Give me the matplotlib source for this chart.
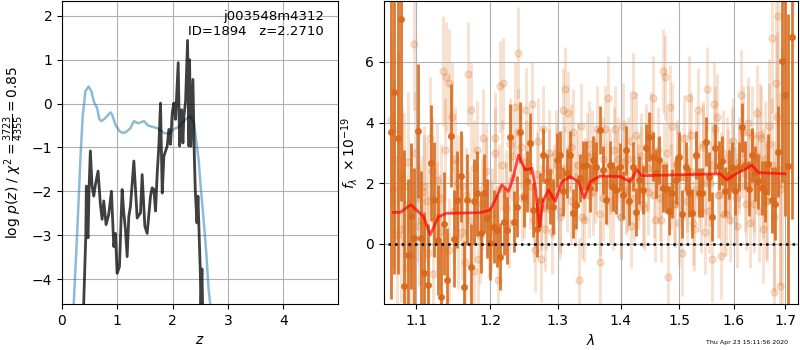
import numpy as np
import matplotlib
matplotlib.use('Agg')
from matplotlib import pyplot as plt
from matplotlib.ticker import FixedLocator, FixedFormatter, NullLocator

# redshift panel
chi2_z = [0.211, 0.272, 0.332, 0.374, 0.423, 0.483, 0.531, 0.574, 0.634, 0.676, 0.713, 0.785,
          0.876, 0.906, 0.966, 1.039, 1.099, 1.159, 1.238, 1.299, 1.377, 1.480, 1.558, 1.630,
          1.721, 1.842, 1.932, 2.023, 2.114, 2.234, 2.319, 2.385, 2.409, 2.470, 2.512, 2.560,
          2.608, 2.651, 2.681]
chi2_v = [-4.58, -3.02, -1.28, -0.29, 0.28, 0.39, 0.28, 0.05, -0.10, -0.36, -0.40, -0.33,
          -0.20, -0.25, -0.48, -0.63, -0.67, -0.65, -0.56, -0.40, -0.45, -0.40, -0.50, -0.53,
          -0.56, -0.67, -0.69, -0.58, -0.53, -0.36, -0.29, -0.44, -0.67, -1.28, -1.96, -2.64,
          -3.40, -4.24, -4.58]

pz_z = [0.392, 0.430, 0.440, 0.455, 0.471, 0.490, 0.513, 0.543, 0.574, 0.604, 0.652, 0.694,
        0.725, 0.755, 0.797, 0.845, 0.894, 0.936, 0.966, 0.996, 1.039, 1.087, 1.117, 1.147,
        1.178, 1.208, 1.238, 1.299, 1.329, 1.359, 1.419, 1.449, 1.498, 1.540, 1.600, 1.630,
        1.661, 1.691, 1.721, 1.751, 1.781, 1.812, 1.842, 1.902, 1.932, 1.962, 1.993, 2.023,
        2.053, 2.101, 2.126, 2.162, 2.186, 2.204, 2.234, 2.270, 2.295, 2.306, 2.331, 2.367,
        2.391, 2.409, 2.440, 2.458, 2.500, 2.512, 2.530, 2.542]
pz_v = [-4.58, -3.02, -1.88, -2.90, -3.06, -1.90, -1.08, -1.88, -2.11, -1.85, -1.54, -2.30,
        -2.64, -2.22, -2.76, -2.53, -2.00, -3.26, -2.96, -3.87, -3.72, -1.96, -2.49, -2.87,
        -3.49, -2.57, -2.34, -1.31, -1.96, -2.61, -2.49, -1.62, -2.80, -2.96, -2.11, -1.92,
        -1.96, -2.45, -1.60, -0.97, 0.01, -2.04, -1.20, -0.97, -0.59, -0.93, -0.21, 0.01,
        -0.36, 0.93, -0.97, -0.14, -0.90, -0.29, 0.05, 1.44, -0.97, 1.00, -0.97, 0.55,
        -1.12, -1.96, -2.72, -2.11, -3.81, -4.58, -3.77, -4.58]

# spectrum panel, binned pixels (dark)
dark_flux = [3.7, 5.0, 3.5, 7.4, -1.4,
             -0.36, 0.92, 0.19, 3.72, 0.19, -0.96, -1.35, 2.67, 1.46, 0.13, -1.74, 0.66, -1.19,
             3.57, 0.17, 1.46, 2.23, -1.41, 1.46, -0.75, 1.40, 1.67, 0.35, 1.67, 0.84, 0.02, 0.57,
             0.45, -0.42, 0.73, 0.45, 3.52, 0.73, 1.23, 3.68, 1.56, 2.06, 3.32, 1.12, 0.48, 1.45,
             2.93, 2.06, 1.56, 1.23, 2.77, 2.93, 1.73, 2.33, 2.93, 1.01, 1.29, 2.17, 2.58,
             2.60, 1.85, 2.77, 2.55, 3.76, 2.44, 1.45, 2.60, 1.89, 1.78, 2.53, 1.62, 3.08, 1.41,
             2.55, 1.05, 2.11, 1.78, 3.15, 3.54, 2.88, 2.33, 2.77, 1.85, 1.82, 1.10, 1.67, 2.11,
             2.88, 0.99, 2.55, 1.69,
             1.01, 2.93, 1.69, 1.69, 3.37, 2.22, 0.90, 3.15, 2.58, 2.75, 1.73, 2.28, 2.55, 1.76,
             2.55, 3.84, 2.60, 1.82, 2.93, 2.33, 2.06, 1.85, 1.73, 2.62, 1.45, 1.32, 3.04, 6.04,
             4.92, 2.58, 6.82]
dark_err = [5.5, 6.0, 4.5, 6.0, 4.5,
            2.5, 2.4, 2.3, 2.2, 2.2, 2.0, 2.0, 1.9, 1.9, 1.8, 1.8, 1.7, 1.7,
            1.7, 1.6, 1.6, 1.5, 1.5, 1.5, 1.4, 1.4, 1.4, 1.3, 1.3, 1.3, 1.2, 1.2,
            1.2, 1.1, 1.1, 1.1, 1.1, 1.0, 1.0, 1.0, 1.0, 1.0, 1.0, 0.9, 0.9, 0.9,
            0.9, 0.9, 0.9, 0.9, 0.9, 0.8, 0.8, 0.8, 0.8, 0.8, 0.8, 0.8, 0.8,
            0.8, 0.8, 0.8, 0.8, 0.8, 0.8, 0.8, 0.8, 0.8, 0.8, 0.8, 0.8, 0.8, 0.8,
            0.8, 0.8, 0.8, 0.8, 0.8, 0.8, 0.8, 0.8, 0.8, 0.8, 0.8, 0.8, 0.8, 0.8,
            0.8, 0.8, 0.8, 0.8,
            0.8, 0.8, 0.8, 0.8, 0.8, 0.8, 0.8, 0.8, 0.8, 0.8, 0.8, 0.8, 0.8, 0.8,
            0.8, 0.8, 0.8, 0.9, 0.9, 0.9, 0.9, 0.9, 1.0, 1.0, 1.1, 1.2, 1.5, 4.0,
            4.0, 5.0, 6.0]

# unbinned pixels (light), first orient
light_flux = [4.1, 2.8, 3.8, 0.5, 1.9, 2.7, -0.4, 6.6, 1.5, 0.8,
              1.9, 1.4, 3.5, -1.0, 2.1, 0.4, 5.7, 5.5, 5.3, 4.2,
              2.8, 0.2, 1.9, -0.6, 5.6, 4.4, -0.9, 3.1, 0.3, 3.5,
              2.4, 0.4, 1.0, 3.5, -1.2, 5.2, 5.3, 1.6, 0.7, 2.9,
              4.5, 6.3, 3.2, 1.6, 4.4, 2.6, 4.6, -0.2, 3.4, -0.5,
              3.8, 1.2, 3.0, 0.4, 1.9, 2.6, 0.9, 4.4, 5.1, 4.3,
              1.4, 3.7, 2.2, -1.2, 3.9, 0.8, 2.9, 1.6, 3.0, 2.1,
              3.8, -0.6, 1.5, 3.8, 4.8, 2.4, 1.2, 3.8, 2.8, 0.9,
              3.9, 1.7, 2.8, 0.6, 4.9, 3.6, 1.9, 2.5, 1.3, 3.2,
              1.7, 2.9, 4.8, 0.8, 3.1, 1.5, 5.7, 5.5, -1.1, 4.5,
              3.9, 1.3, 2.6, 0.7, -0.3, 2.2, 1.8, 4.8, 3.6, 0.5,
              2.3, 4.4, 1.1, 3.3, 0.4, 5.1, 2.0, -0.5, 4.6, 4.2,
              1.6, -0.4, 3.0, 1.0, 2.4, 0.8, 3.1, 1.9, 0.6, 2.7,
              4.9, 3.7, 1.3, 4.0, 0.7, 3.6, 2.0, 4.3, 1.1, 3.5,
              0.5, 2.8, 1.4, 3.9, 6.8, -1.6, 5.3, 7.5, -1.4, 2.0]
light_err = [2.8, 2.6, 2.5, 2.4, 2.4, 2.3, 2.2, 2.2, 2.1, 2.1,
             2.0, 2.0, 2.0, 1.9, 1.9, 1.9, 1.8, 1.8, 1.8, 1.8,
             1.7, 1.7, 1.7, 1.7, 1.7, 1.6, 1.6, 1.6, 1.6, 1.6,
             1.6, 1.5, 1.5, 1.5, 1.5, 1.5, 1.5, 1.5, 1.5, 1.5,
             1.5, 1.5, 1.4, 1.4, 1.4, 1.4, 1.4, 1.4, 1.4, 1.4,
             1.4, 1.4, 1.4, 1.4, 1.4, 1.4, 1.4, 1.4, 1.4, 1.4,
             1.4, 1.4, 1.4, 1.4, 1.4, 1.4, 1.4, 1.4, 1.4, 1.4,
             1.4, 1.4, 1.4, 1.4, 1.4, 1.4, 1.4, 1.4, 1.4, 1.4,
             1.4, 1.4, 1.4, 1.4, 1.4, 1.4, 1.4, 1.4, 1.4, 1.4,
             1.4, 1.4, 1.4, 1.4, 1.4, 1.4, 1.4, 1.4, 1.4, 1.4,
             1.4, 1.4, 1.4, 1.4, 1.4, 1.4, 1.4, 1.4, 1.4, 1.4,
             1.4, 1.4, 1.4, 1.4, 1.4, 1.4, 1.4, 1.4, 1.4, 1.4,
             1.4, 1.4, 1.4, 1.4, 1.4, 1.4, 1.4, 1.4, 1.4, 1.5,
             1.5, 1.5, 1.5, 1.5, 1.5, 1.6, 1.6, 1.6, 1.7, 1.7,
             1.8, 1.9, 2.0, 2.2, 2.5, 2.8, 3.2, 3.6, 4.0, 4.5]

# unbinned pixels (light), second orient
light2_flux = [1.8, 0.3, 2.2, -0.8, 1.2, 3.0, 0.6, 1.7, -0.3, 2.4, 0.9, 1.5, 3.1, -0.2, 1.1, 2.0, 0.4, 1.6,
               0.8, 2.5, -0.5, 1.3, 2.0, 0.6, 3.0, 1.8, 2.6, 1.2, 3.3, 2.2, 3.7, 1.5, 2.7, 1.9, 0.8, 2.3,
               1.2, 0.5, 2.4, 1.6, 3.0, 1.1, 2.5, 1.8, 3.2, 1.3, 2.6, 0.9, 2.1, 3.3, 1.7, 2.4, 1.0, 2.8,
               2.0, 1.4, 3.1, 2.3, 0.9, 2.7, 1.8, 3.4, 1.5, 2.2, 2.9, 1.2, 2.5, 3.6, 1.6, 2.1, 0.8, 2.6,
               3.0, 1.9, 1.3, 2.7, 2.2, 3.5, 1.4, 2.4, 0.7, 2.9, 1.8, 3.2, 2.0, 1.1, 2.6, 3.8, 1.6, 2.3,
               1.0, 2.8, 2.1, 3.4, 1.5, 2.5, 3.0, 1.9, 3.7, 2.2, 1.3, 2.9, 3.6, 2.0, 1.4, 3.3, 2.6, 0.9,
               4.2, 1.8]
light2_err = [2.6, 2.4, 2.3, 2.2, 2.1, 2.0, 2.0, 1.9, 1.9, 1.8, 1.8, 1.8, 1.7, 1.7, 1.7, 1.6, 1.6, 1.6,
              1.6, 1.6, 1.5, 1.5, 1.5, 1.5, 1.5, 1.5, 1.5, 1.5, 1.5, 1.4, 1.4, 1.4, 1.4, 1.4, 1.4, 1.4,
              1.4, 1.4, 1.4, 1.4, 1.4, 1.4, 1.4, 1.4, 1.4, 1.4, 1.4, 1.4, 1.4, 1.4, 1.4, 1.4, 1.4, 1.4,
              1.4, 1.4, 1.4, 1.4, 1.4, 1.4, 1.4, 1.4, 1.4, 1.4, 1.4, 1.4, 1.4, 1.4, 1.4, 1.4, 1.4, 1.4,
              1.4, 1.4, 1.4, 1.4, 1.4, 1.4, 1.4, 1.4, 1.4, 1.4, 1.4, 1.4, 1.4, 1.4, 1.4, 1.4, 1.4, 1.4,
              1.4, 1.4, 1.4, 1.4, 1.5, 1.5, 1.5, 1.5, 1.5, 1.6, 1.6, 1.6, 1.7, 1.8, 1.9, 2.0, 2.2, 2.5,
              2.8, 3.2]

model_wave = [1.0709, 1.0794, 1.0931, 1.1096, 1.1183, 1.1294, 1.1405, 1.1863, 1.2003, 1.2075,
              1.2170, 1.2266, 1.2338, 1.2411, 1.2509, 1.2609, 1.2658, 1.2722, 1.2783, 1.2858,
              1.2960, 1.3063, 1.3192, 1.3321, 1.3411, 1.3507, 1.3667, 1.3993, 1.4158, 1.4270,
              1.4355, 1.5745, 1.5870, 1.6058, 1.6249, 1.6345, 1.6473, 1.7000]
model_flux = [1.04, 1.04, 1.29, 0.90, 0.30, 0.90, 1.01, 1.03, 1.12, 1.45,
              1.95, 1.73, 2.22, 2.93, 2.44, 2.49, 1.89, 0.57, 1.45, 1.78,
              1.40, 2.05, 2.22, 2.05, 1.51, 2.05, 2.24, 2.22, 2.05, 2.44,
              2.25, 2.31, 2.11, 2.33, 2.49, 2.60, 2.35, 2.31]

wave_ticks = [1.1, 1.2, 1.3, 1.4, 1.5, 1.6, 1.7]

# pixel grids of the spectra
dark_wave = np.geomspace(1.068, 1.713, len(dark_flux))
light_wave = np.linspace(1.068, 1.694, len(light_flux))
light2_wave = np.linspace(1.070, 1.690, len(light2_flux))

orange = '#d9691a'

fig = plt.figure(figsize=(8, 3.5), dpi=100)
ax1 = fig.add_axes([0.0775, 0.1314, 0.345, 0.866])
ax2 = fig.add_axes([0.48, 0.1314, 0.5175, 0.866])

ax1.plot(chi2_z, chi2_v, color='#1f77b4', alpha=0.5, lw=1.8)
ax1.plot(pz_z, pz_v, color='k', alpha=0.75, lw=2)
ax1.set_xlim(0, 4.99)
ax1.set_ylim(-4.57, 2.34)
ax1.set_xticks([0, 1, 2, 3, 4])
ax1.grid()
ax1.set_xlabel('$z$')
ax1.set_ylabel(r'log $p(z)$ / $\chi^2=\frac{3723}{4355}=0.85$')
ax1.text(0.95, 0.97, 'j003548m4312\nID=1894   z=2.2710', ha='right', va='top',
         transform=ax1.transAxes, fontsize=9.5)

for w, f, e in [(light_wave, light_flux, light_err), (light2_wave, light2_flux, light2_err)]:
    ax2.errorbar(w, f, yerr=e, marker='o', ms=5, linestyle='None',
                 color=orange, alpha=0.2, elinewidth=2.2, zorder=1)
ax2.errorbar(dark_wave, dark_flux, yerr=dark_err, marker='o', ms=4, linestyle='None',
             color=orange, alpha=0.9, elinewidth=2.0, zorder=2)
ax2.plot(model_wave, model_flux, color='red', alpha=0.7, lw=2, zorder=3)
ax2.plot([1.0, 1.8], [0, 0], color='k', linestyle=':', lw=1.8, zorder=4)

ax2.set_xscale('log')
ax2.xaxis.set_major_locator(FixedLocator(wave_ticks))
ax2.xaxis.set_major_formatter(FixedFormatter([str(t) for t in wave_ticks]))
ax2.xaxis.set_minor_locator(NullLocator())
ax2.set_xlim(1.059, 1.726)
ax2.set_ylim(-1.98, 8.01)
ax2.set_yticks([0, 2, 4, 6])
ax2.grid()
ax2.set_xlabel(r'$\lambda$')
ax2.set_ylabel(r'$f_\lambda\ \times 10^{-19}$')

fig.text(0.985, 0.022, 'Thu Apr 23 15:11:56 2020', ha='right', va='center', fontsize=4.5)

fig.savefig('out.png', dpi=100)
